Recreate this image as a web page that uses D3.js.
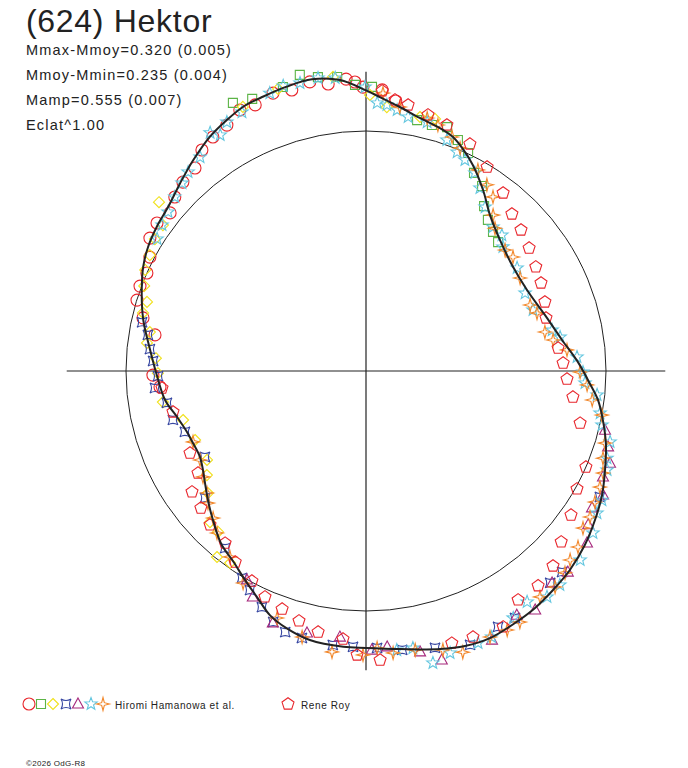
<!DOCTYPE html>
<html>
<head>
<meta charset="utf-8">
<script src="https://cdn.jsdelivr.net/npm/d3@7"></script>
<style>
  html, body { margin: 0; padding: 0; background: #fff; }
  svg { display: block; font-family: "Liberation Sans", Arial, sans-serif; }
</style>
</head>
<body>
<svg id="chart" width="688" height="768"></svg>
<script>
// ───── data: polar lightcurve of (624) Hektor ─────
// angle = rotational phase in degrees (0 = up, clockwise), r = relative flux (1 = mean circle)
const TITLE = '(624) Hektor';
const STATS = ['Mmax-Mmoy=0.320 (0.005)', 'Mmoy-Mmin=0.235 (0.004)', 'Mamp=0.555 (0.007)', 'Eclat^1.00'];
const OBSERVERS = ['Hiromi Hamanowa et al.', 'Rene Roy'];

// fitted curve
const fitCurve = [
  [0, 1.169], [2.9, 1.143], [7.3, 1.109], [12.0, 1.078], [16.9, 1.058], [20.4, 1.040], [23.5, 1.010],
  [27.4, 0.967], [32.9, 0.898], [38.5, 0.830], [45.6, 0.781], [54.0, 0.752], [63.3, 0.751], [72.6, 0.781],
  [81.0, 0.827], [87.6, 0.884], [93.3, 0.935], [97.1, 0.974], [101.7, 1.008], [107.1, 1.046],
  [112.5, 1.078], [117.7, 1.111], [123.0, 1.138], [128.5, 1.165], [134.3, 1.187], [139.5, 1.200],
  [144.5, 1.213], [149.4, 1.220], [155.1, 1.227], [160.2, 1.218], [165.1, 1.199], [173.0, 1.167],
  [180, 1.154], [184.7, 1.153], [191.8, 1.145], [197.1, 1.122], [201.5, 1.093], [205.8, 1.045],
  [210.1, 1.006], [214.8, 0.968], [219.9, 0.940], [226.5, 0.884], [230.8, 0.850], [235.2, 0.817],
  [238.7, 0.795], [242.6, 0.779], [247.4, 0.781], [251.2, 0.788], [256.3, 0.810], [261.8, 0.846],
  [268.9, 0.872], [275.6, 0.904], [282.9, 0.952], [289.1, 0.989], [295.1, 1.025], [299.7, 1.045],
  [304.6, 1.059], [309.7, 1.071], [315.3, 1.101], [320.7, 1.136], [326.3, 1.173], [331.0, 1.196],
  [335.1, 1.214], [339.5, 1.221], [344.4, 1.230], [349.5, 1.236], [354.9, 1.217]
];

// Hamanowa et al. sessions
const hamCircle = [
  [326.8, 1.165], [323.4, 1.147], [319.9, 1.106], [315.9, 1.096], [312.3, 1.077], [308.9, 1.049],
  [305.3, 1.067], [301.6, 1.057], [297.8, 1.018], [294.1, 1.000], [290.6, 1.006], [287.2, 0.999],
  [283.4, 0.955], [279.7, 0.892], [268.9, 0.888], [265.6, 0.861], [330.5, 1.177], [334.2, 1.208],
  [337.4, 1.201], [341.5, 1.221], [345.2, 1.211], [349.0, 1.227], [352.5, 1.206], [356.1, 1.219],
  [357.8, 1.205], [359.4, 1.183], [3.3, 1.173], [6.3, 1.132]
];
const hamSquare = [
  [333.6, 1.247], [337.3, 1.229], [343.7, 1.233], [347.4, 1.264], [350.7, 1.241], [354.4, 1.231],
  [357.8, 1.193], [1.2, 1.184], [11.5, 1.067], [15.0, 1.061], [18.4, 1.071], [21.7, 1.036],
  [25.1, 1.003], [28.6, 0.940], [32.1, 0.910], [35.6, 0.845], [38.9, 0.809], [42.4, 0.785], [45.7, 0.769]
];
const hamDiamond = [
  [309.2, 1.113], [305.7, 1.042], [302.0, 1.037], [298.2, 1.022], [294.6, 1.012], [291.0, 0.990],
  [287.5, 0.957], [284.6, 0.960], [280.2, 0.915], [277.3, 0.920], [273.5, 0.877], [269.4, 0.867],
  [261.3, 0.856], [255.0, 0.789], [248.0, 0.768], [240.8, 0.759], [236.8, 0.792], [232.3, 0.832],
  [225.9, 0.905], [222.6, 0.911], [218.7, 0.993], [215.3, 0.980], [335.0, 1.214], [342.7, 1.231],
  [353.6, 1.233], [0.8, 1.150], [4.5, 1.103], [12.0, 1.082], [15.3, 1.089]
];
const hamCross = [
  [282.3, 0.955], [279.4, 0.921], [275.8, 0.905], [272.7, 0.888], [268.6, 0.867], [265.4, 0.882],
  [260.9, 0.840], [255.8, 0.830], [251.4, 0.796], [241.9, 0.761], [231.7, 0.854], [218.5, 0.943],
  [210.9, 1.005], [207.9, 1.033], [203.8, 1.075], [200.3, 1.115], [197.2, 1.139], [193.5, 1.144],
  [186.9, 1.150], [182.7, 1.151], [177.7, 1.155], [172.6, 1.172], [166.0, 1.189], [159.2, 1.221],
  [152.7, 1.200], [148.9, 1.202], [139.0, 1.170], [135.7, 1.170], [118.3, 1.107]
];
const hamTriangle = [
  [103.9, 1.026], [107.4, 1.057], [110.7, 1.087], [114.1, 1.082], [117.6, 1.115], [121.2, 1.101],
  [124.7, 1.126], [127.9, 1.167], [134.9, 1.187], [138.7, 1.175], [144.7, 1.220], [148.3, 1.196],
  [154.9, 1.238], [165.3, 1.245], [169.1, 1.192], [175.6, 1.153], [178.8, 1.163], [185.6, 1.114],
  [192.7, 1.119], [200.3, 1.119], [206.6, 1.053], [209.7, 1.002]
];
const hamStar = [
  [322.2, 1.128], [318.2, 1.112], [315.6, 1.096], [312.3, 1.077], [308.8, 1.058], [305.6, 1.045],
  [302.3, 1.030], [326.8, 1.186], [328.3, 1.156], [330.8, 1.188], [334.4, 1.196], [340.9, 1.225],
  [343.8, 1.237], [347.1, 1.231], [350.7, 1.237], [354.0, 1.228], [359.8, 1.183], [2.4, 1.118],
  [4.5, 1.112], [6.8, 1.095], [9.4, 1.073], [13.8, 1.068], [19.3, 1.020], [22.6, 0.988],
  [25.1, 0.971], [28.8, 0.942], [31.9, 0.898], [36.0, 0.844], [41.4, 0.800], [45.0, 0.801],
  [47.8, 0.770], [55.7, 0.762], [63.9, 0.738], [69.9, 0.741], [77.6, 0.794], [80.1, 0.821],
  [86.2, 0.881], [90.3, 0.904], [93.1, 0.914], [95.9, 0.968], [100.2, 0.991], [102.9, 1.009],
  [106.2, 1.059], [109.9, 1.068], [112.3, 1.086], [118.7, 1.121], [121.6, 1.130], [125.5, 1.162],
  [131.4, 1.190], [137.8, 1.203], [141.3, 1.206], [145.1, 1.173], [149.2, 1.198], [154.7, 1.226],
  [157.6, 1.226], [163.4, 1.226], [167.1, 1.248], [170.4, 1.171], [173.7, 1.170]
];
const hamSpark = [
  [3.5, 1.160], [7.3, 1.109], [13.6, 1.084], [16.3, 1.068], [20.2, 1.039], [22.9, 1.008],
  [29.1, 0.959], [33.0, 0.925], [36.1, 0.898], [39.2, 0.838], [42.1, 0.802], [49.0, 0.768],
  [52.2, 0.775], [58.9, 0.750], [68.1, 0.737], [71.3, 0.752], [77.7, 0.763], [80.6, 0.790],
  [84.0, 0.842], [90.3, 0.892], [93.6, 0.923], [97.3, 0.950], [100.6, 1.000], [106.8, 1.040],
  [110.2, 1.052], [113.3, 1.075], [116.4, 1.088], [119.8, 1.099], [123.1, 1.114], [125.9, 1.116],
  [129.7, 1.148], [132.8, 1.159], [135.4, 1.181], [138.8, 1.196], [142.4, 1.188], [148.5, 1.227],
  [151.4, 1.229], [155.0, 1.223], [161.0, 1.239], [164.6, 1.206], [170.0, 1.180], [174.5, 1.180],
  [177.7, 1.155], [180.6, 1.183], [186.9, 1.179], [193.5, 1.140], [199.8, 1.094], [210.1, 1.021],
  [216.2, 0.960], [222.6, 0.917], [226.1, 0.884], [230.1, 0.858], [232.5, 0.835], [237.0, 0.810],
  [241.8, 0.785], [247.7, 0.779]
];

// Rene Roy
const royPentagon = [
  [3.3, 1.169], [6.1, 1.136], [9.0, 1.122], [13.6, 1.098], [18.2, 1.079], [24.6, 1.040],
  [30.7, 0.988], [37.6, 0.936], [42.9, 0.893], [47.7, 0.873], [53.0, 0.851], [58.5, 0.830],
  [63.3, 0.816], [68.9, 0.799], [73.6, 0.782], [83.2, 0.806], [87.7, 0.822], [92.3, 0.838],
  [97.2, 0.869], [103.7, 0.918], [113.6, 1.000], [119.2, 1.007], [125.1, 1.044], [131.2, 1.081],
  [136.2, 1.126], [141.3, 1.147], [146.4, 1.145], [151.8, 1.210], [158.1, 1.195], [162.5, 1.189],
  [177.2, 1.206], [181.8, 1.184], [184.9, 1.121], [190.4, 1.106], [195.0, 1.078], [199.4, 1.052],
  [204.1, 1.031], [208.5, 0.996], [214.4, 0.965], [219.3, 0.927], [225.4, 0.913], [230.3, 0.894],
  [235.2, 0.883], [238.7, 0.819], [245.0, 0.809], [258.0, 0.822], [265.2, 0.853]
];

// ───── symbols ─────
function poly(n, rOut, rIn, rot) {
  const pts = [];
  const k = rIn == null ? n : n * 2;
  for (let i = 0; i < k; i++) {
    const a = rot + i * Math.PI * 2 / k;
    const rr = rIn == null || i % 2 === 0 ? rOut : rIn;
    pts.push([Math.sin(a) * rr, -Math.cos(a) * rr]);
  }
  return 'M' + pts.map(p => p[0].toFixed(2) + ',' + p[1].toFixed(2)).join('L') + 'Z';
}
const SHAPES = {
  circle:   'M6,0A6,6 0 1,1 -6,0A6,6 0 1,1 6,0Z',
  square:   'M-4.5,-4.5H4.5V4.5H-4.5Z',
  diamond:  'M0,-5.5L5.5,0L0,5.5L-5.5,0Z',
  cross:    'M-5,-5Q0,-2 5,-5Q2,0 5,5Q0,2 -5,5Q-2,0 -5,-5Z',
  triangle: 'M0,-6L5.5,4L-5.5,4Z',
  star:     poly(5, 6.5, 2.7, 0),
  spark:    poly(4, 6.5, 1.9, 0),
  pentagon: poly(5, 6.3, null, 0)
};

const SERIES = [
  { data: hamCircle,   shape: 'circle',   color: '#e8262c' },
  { data: hamSquare,   shape: 'square',   color: '#5cb446' },
  { data: hamDiamond,  shape: 'diamond',  color: '#f0e11c' },
  { data: hamCross,    shape: 'cross',    color: '#3747a2' },
  { data: hamTriangle, shape: 'triangle', color: '#a6287c' },
  { data: hamStar,     shape: 'star',     color: '#62c6df' },
  { data: hamSpark,    shape: 'spark',    color: '#f2872a' },
  { data: royPentagon, shape: 'pentagon', color: '#e8262c' }
];

// ───── layout ─────
const CX = 366, CY = 371, R = 240;
const rScale = d3.scaleLinear().domain([0, 1]).range([0, R]);
const aScale = d3.scaleLinear().domain([0, 360]).range([0, 2 * Math.PI]);
const AXIS_EXT = 1.247;
const INK = '#222';

const svg = d3.select('#chart');

// header
svg.append('text').attr('x', 26).attr('y', 32)
  .attr('font-size', 32).attr('letter-spacing', 0.7).attr('fill', INK).text(TITLE);
svg.selectAll('text.stat').data(STATS).join('text').attr('class', 'stat')
  .attr('x', 26).attr('y', (d, i) => 55 + i * 25)
  .attr('font-size', 14.5).attr('letter-spacing', 1.2).attr('fill', INK).text(d => d);

const g = svg.append('g').attr('transform', `translate(${CX},${CY})`);

// reference circle and axes
g.append('circle').attr('r', rScale(1)).attr('fill', 'none').attr('stroke', INK).attr('stroke-width', 1);
g.append('line').attr('x1', -rScale(AXIS_EXT)).attr('x2', rScale(AXIS_EXT)).attr('y1', 0).attr('y2', 0)
  .attr('stroke', INK).attr('stroke-width', 1.2);
g.append('line').attr('y1', -rScale(AXIS_EXT)).attr('y2', rScale(AXIS_EXT)).attr('x1', 0).attr('x2', 0)
  .attr('stroke', INK).attr('stroke-width', 1.2);

// observation markers
SERIES.forEach(s => {
  g.append('g').selectAll('path').data(s.data).join('path')
    .attr('d', SHAPES[s.shape])
    .attr('transform', d => {
      const p = d3.pointRadial(aScale(d[0]), rScale(d[1]));
      return `translate(${p[0].toFixed(1)},${p[1].toFixed(1)})`;
    })
    .attr('fill', 'none').attr('stroke', s.color).attr('stroke-width', 1.1);
});

// fitted curve
const radial = d3.lineRadial()
  .angle(d => aScale(d[0]))
  .radius(d => rScale(d[1]))
  .curve(d3.curveCatmullRomClosed.alpha(0.5));
g.append('path').datum(fitCurve).attr('d', radial)
  .attr('fill', 'none').attr('stroke', INK).attr('stroke-width', 2);

// legend
const LEG_Y = 704;
const legX = [29, 41, 53, 66, 78, 91, 103];
SERIES.slice(0, 7).forEach((s, i) => {
  svg.append('path').attr('d', SHAPES[s.shape])
    .attr('transform', `translate(${legX[i]},${LEG_Y})`)
    .attr('fill', 'none').attr('stroke', s.color).attr('stroke-width', 1.1);
});
svg.append('text').attr('x', 115).attr('y', LEG_Y + 4.5)
  .attr('font-size', 10).attr('letter-spacing', 0.6).attr('fill', INK).text(OBSERVERS[0]);
svg.append('path').attr('d', SHAPES.pentagon)
  .attr('transform', `translate(288,${LEG_Y})`)
  .attr('fill', 'none').attr('stroke', SERIES[7].color).attr('stroke-width', 1.1);
svg.append('text').attr('x', 301).attr('y', LEG_Y + 4.5)
  .attr('font-size', 10).attr('letter-spacing', 0.6).attr('fill', INK).text(OBSERVERS[1]);

// footer
svg.append('text').attr('x', 26).attr('y', 766)
  .attr('font-size', 8).attr('letter-spacing', 0.3).attr('fill', INK).text('©2026 OdG-R8');
</script>
</body>
</html>
